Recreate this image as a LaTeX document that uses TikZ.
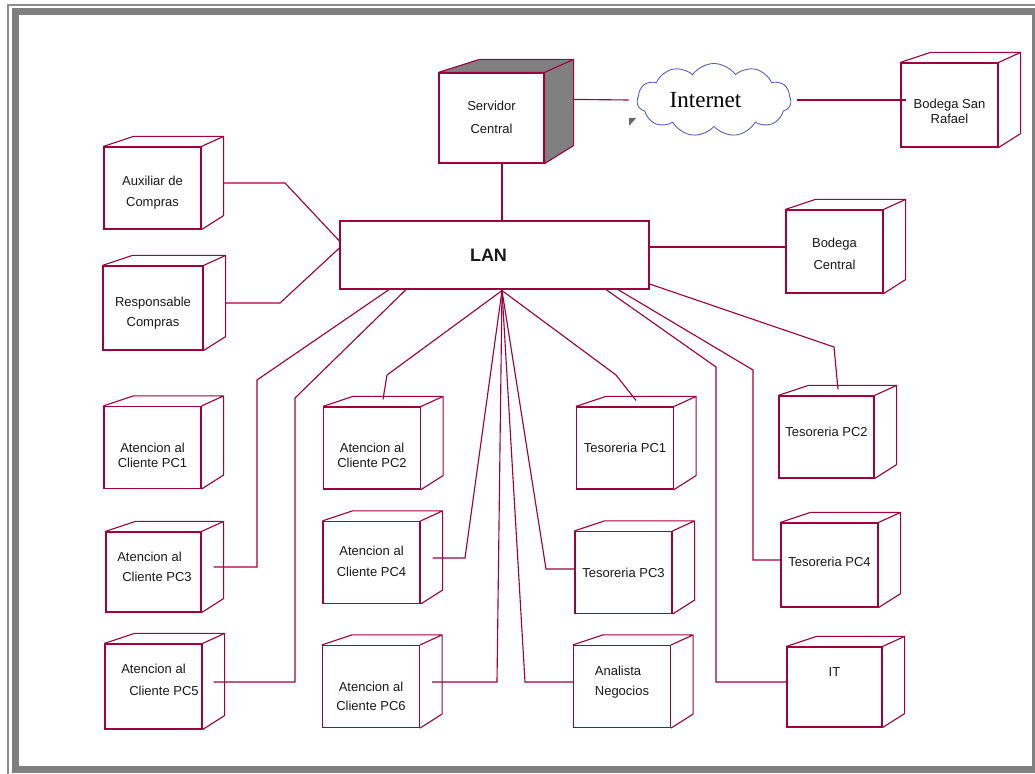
\documentclass[tikz,border=0pt]{standalone}
\usepackage{fontspec}
\setmainfont{Liberation Sans}
\newfontfamily\serifa{Liberation Serif}
\usetikzlibrary{shapes.symbols}
\definecolor{rosa}{RGB}{160,0,60}
\definecolor{azul}{RGB}{80,90,190}

\tikzset{
  caja/.style={draw=rosa, line width=0.8pt, rectangle, inner sep=0pt,
    minimum width=2.425cm, minimum height=2.05cm, align=center,
    font=\fontsize{9.25}{10.7}\selectfont, text=black!90},
  lnk/.style={draw=rosa, line width=0.8pt},
}

\begin{document}
\begin{tikzpicture}[x=0.025cm, y=-0.025cm]
\useasboundingbox (0,0) rectangle (1035,774);

% marco
\draw[black!45, line width=0.05cm] (8,774) -- (8,5) -- (1035,5);
\draw[black!50, line width=0.175cm] (15.5,12) rectangle (1035,769.5);

% servidor e internet
\node[caja, minimum width=2.625cm, minimum height=2.25cm, text height=0.775cm, text depth=0pt] (srv) at (491.5,118) {Servidor\\[5.7pt]Central};
\node[cloud, cloud puffs=11, cloud puff arc=110, cloud ignores aspect, draw=azul, line width=0.6pt,
  minimum width=3.85cm, minimum height=1.825cm, inner sep=0pt,
  font=\serifa\fontsize{16.4}{18}\selectfont] (inet) at (714,100) {Internet\hspace*{0.425cm}};
\fill[black!60] (629,118) -- (629,126) -- (636,118) -- cycle;
\node[caja, minimum height=2.1cm, text height=0.925cm, text depth=0pt] (bsr) at (949.5,105) {Bodega San\\Rafael};

% LAN
\node[caja, minimum width=7.725cm, minimum height=1.7cm, font=\bfseries\fontsize{12.8}{14}\selectfont] (lan) at (494.5,255) {LAN\hspace*{0.3cm}};

% compras y bodega
\node[caja, text height=0.925cm, text depth=0pt] (aux) at (152.5,188) {Auxiliar de\\[4.3pt]Compras};
\node[caja, minimum width=2.5cm, minimum height=2.1cm, text height=0.925cm, text depth=0pt] (resp) at (153,308) {Responsable\\[3.6pt]Compras};
\node[caja, minimum height=2.075cm, text height=0.9cm, text depth=0pt] (bcen) at (834.5,251.5) {Bodega\\[5pt]Central};

% atencion al cliente
\node[caja, text height=1cm, text depth=0pt] (pc1) at (152.5,447.5) {Atencion al\\Cliente PC1};
\node[caja, text height=0.975cm, text depth=0pt] (pc2) at (372,448) {Atencion al\\Cliente PC2};
\node[caja, minimum width=2.375cm, minimum height=2cm, text height=0.475cm, text depth=0pt] (pc3) at (153.5,572) {Atencion al\hspace*{0.2cm}\\[3.6pt]\hspace*{0.175cm}Cliente PC3};
\node[caja, text height=0.7cm, text depth=0pt] (pc4) at (371.5,562.5) {Atencion al\\[4.3pt]Cliente PC4};
\node[caja, minimum height=2.125cm, text height=0.45cm, text depth=0pt] (pc5) at (153.5,686.5) {Atencion al\\[5pt]\hspace*{0.525cm}Cliente PC5};
\node[caja, text height=1.2cm, text depth=0pt] (pc6) at (371,686.5) {Atencion al\\[2.8pt]Cliente PC6};

% tesoreria y otros
\node[caja, text height=0.225cm, text depth=0pt] (tes1) at (625,448) {Tesoreria PC1};
\node[caja, minimum width=2.375cm, text height=0pt, text depth=0.025cm] (tes2) at (826.5,437) {Tesoreria PC2};
\node[caja, text height=0.25cm, text depth=0pt] (tes3) at (623.5,572.5) {Tesoreria PC3};
\node[caja, minimum height=2.1cm, text height=0.075cm, text depth=0pt] (tes4) at (829.5,565) {Tesoreria PC4};
\node[caja, align=left, text height=0.45cm, text depth=0pt] (ana) at (622,686.5) {Analista\\[3.6pt]Negocios};
\node[caja, minimum width=2.375cm, minimum height=2cm, text height=0pt, text depth=0.525cm] (it) at (834.5,687) {IT};

% caras de los nodos
\foreach \n in {aux,resp,bsr,bcen,pc1,pc2,pc3,pc4,pc5,pc6,tes1,tes2,tes3,tes4,ana,it}
  \draw[lnk, line join=round] (\n.north west) -- ++(30,-10) -- ([shift={(22,-10)}]\n.north east) -- (\n.north east)
    ([shift={(22,-10)}]\n.north east) -- ([shift={(22,-14)}]\n.south east) -- (\n.south east);
\filldraw[lnk, fill=black!50, line join=round] (srv.north west) -- ++(41,-13) -- ([shift={(29,-13)}]srv.north east)
  -- ([shift={(29,-18)}]srv.south east) -- (srv.south east) -- (srv.north east) -- cycle;
\draw[lnk] (srv.north east) -- ([shift={(29,-13)}]srv.north east);

% conexiones
\coordinate (hub) at ([shift={(7.5,1)}]lan.south);

\draw[lnk] ([shift={(10.5,0)}]srv.south) -- ([shift={(10.5,0)}]srv.south |- lan.north);
\draw[lnk] ([shift={(29,27)}]srv.north east) -- ([shift={(-8,0)}]inet.west);
\draw[lnk] ([shift={(6,0)}]inet.east) -- ([shift={(6,0)}]inet.east -| bsr.west);

\draw[lnk] ([shift={(22,-5)}]aux.east) -- (285,183) -- ([shift={(0,-14)}]lan.west);
\draw[lnk] ([shift={(22,-5)}]resp.east) -- (280,303) -- ([shift={(0,-7)}]lan.west);
\draw[lnk] ([shift={(0,-8)}]lan.east) -- ([shift={(0,-8)}]lan.east -| bcen.west);
\draw[lnk] ([shift={(0,29)}]lan.east) -- (834,347) -- ([shift={(11.5,-6)}]tes2.north);

\draw[lnk] ([shift={(-105.5,0)}]lan.south) -- (257,380) |- ([shift={(12,-5)}]pc3.east);
\draw[lnk] ([shift={(-88.5,0)}]lan.south) -- (295,398) |- ([shift={(11,-4.5)}]pc5.east);
\draw[lnk] (hub) -- (387,375) -- ([shift={(11,-7)}]pc2.north);
\draw[lnk] (hub) -- (465,558) -- ([shift={(12,-4.5)}]pc4.east);
\draw[lnk] (hub) -- (497,682) -- ([shift={(12,-4.5)}]pc6.east);
\draw[lnk] (hub) -- (525,682) -- ([shift={(0,-4.5)}]ana.west);
\draw[lnk] (hub) -- (546,569) -- ([shift={(0,-3.5)}]tes3.west);
\draw[lnk] (hub) -- (616,375) -- ([shift={(11,-6)}]tes1.north);
\draw[lnk] ([shift={(111.5,0)}]lan.south) -- (716,367) |- ([shift={(0,-5)}]it.west);
\draw[lnk] ([shift={(123.5,0)}]lan.south) -- (753,370) |- ([shift={(0,-5)}]tes4.west);

\end{tikzpicture}
\end{document}
